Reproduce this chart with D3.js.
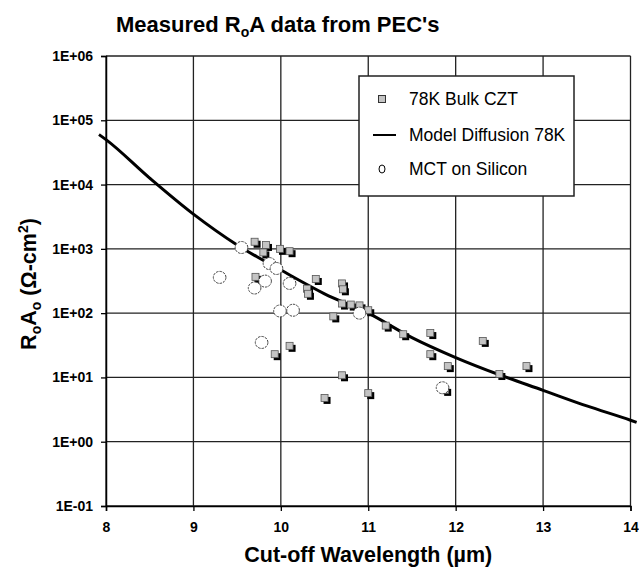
<!DOCTYPE html>
<html>
<head>
<meta charset="utf-8">
<script src="https://cdn.jsdelivr.net/npm/d3@7"></script>
<style>
  html, body { margin: 0; padding: 0; background: #fff; }
  svg { display: block; font-family: "Liberation Sans", Arial, sans-serif; }
</style>
</head>
<body>
<svg id="chart" width="639" height="569"></svg>
<script>
// ---- data ----
const xTicks = [8, 9, 10, 11, 12, 13, 14];
const yTicks = [0.1, 1, 10, 100, 1000, 10000, 100000, 1000000];
const yTickLabels = ["1E-01", "1E+00", "1E+01", "1E+02", "1E+03", "1E+04", "1E+05", "1E+06"];

// 78K Bulk CZT (grey squares)
const cztWavelength = [9.70, 9.83, 9.80, 9.99, 10.10, 9.71, 10.40, 10.30, 10.31, 10.70, 10.71,
                       10.70, 10.80, 10.90, 11.00, 10.60, 11.20, 11.40, 10.10, 9.93, 10.70,
                       11.00, 10.50, 11.71, 11.71, 11.91, 12.31, 12.50, 12.81, 11.88];
const cztR0A = [1290, 1150, 880, 1000, 920, 367, 340, 240, 200, 290, 235,
                141, 136, 132, 111, 89, 64, 47, 31, 23, 10.8,
                5.7, 4.8, 49, 23, 15, 37, 11.3, 15, 6.4];

// MCT on Silicon (white circles)
const mctWavelength = [9.55, 9.87, 9.95, 9.30, 9.82, 9.70, 10.10, 9.99, 10.14, 10.90, 9.78, 11.85];
const mctR0A = [1050, 590, 495, 360, 315, 246, 290, 108, 111, 100, 35, 6.9];

// Model Diffusion 78K (line)
const modelWavelength = [7.92, 8.0, 8.5, 9.0, 9.5, 10.0, 10.5, 11.0, 11.5, 12.0, 12.5, 13.0, 13.5, 14.0, 14.07];
const modelR0A = [60000, 50000, 12600, 3470, 1150, 468, 200, 100, 41.7, 20.4, 11.0, 6.3, 3.6, 2.16, 2.0];

(function () {
// ---- layout ----
const svg = d3.select("#chart");
const pLeft = 106, pRight = 630.5, pTop = 56, pBottom = 506;
const FONT = "Liberation Sans, Arial, sans-serif";

const x = d3.scaleLinear().domain([8, 14]).range([pLeft, pRight]);
const y = d3.scaleLog().domain([0.1, 1e6]).range([pBottom, pTop]);

// title
const title = svg.append("text")
  .attr("x", 116).attr("y", 32)
  .attr("font-size", 22).attr("font-weight", "bold").attr("fill", "#000");
title.append("tspan").text("Measured R");
title.append("tspan").attr("font-size", 14).attr("dy", 5).text("o");
title.append("tspan").attr("dy", -5).text("A data from PEC's");

// gridlines
const grid = svg.append("g");
grid.selectAll("line.v").data(xTicks).enter().append("line")
  .attr("x1", d => x(d)).attr("x2", d => x(d))
  .attr("y1", pTop).attr("y2", pBottom)
  .attr("stroke", "#222").attr("stroke-width", 1.3);
grid.selectAll("line.h").data(yTicks).enter().append("line")
  .attr("x1", pLeft).attr("x2", pRight)
  .attr("y1", d => y(d)).attr("y2", d => y(d))
  .attr("stroke", "#222").attr("stroke-width", 1.3);

// axes
const xAxis = d3.axisBottom(x).tickValues(xTicks).tickSize(5).tickPadding(11).tickFormat(d3.format("d"));
const gx = svg.append("g").attr("transform", `translate(0,${pBottom})`).call(xAxis);
gx.select(".domain").attr("stroke", "#000").attr("stroke-width", 1.5);
gx.selectAll(".tick line").attr("stroke", "#000").attr("stroke-width", 1.3);
gx.selectAll(".tick text").attr("font-size", 14).attr("font-weight", "bold")
  .attr("fill", "#000").attr("font-family", FONT);

const yAxis = d3.axisLeft(y).tickValues(yTicks).tickSize(5).tickPadding(8)
  .tickFormat((d, i) => yTickLabels[i]);
const gy = svg.append("g").attr("transform", `translate(${pLeft},0)`).call(yAxis);
gy.select(".domain").attr("stroke", "#000").attr("stroke-width", 1.5);
gy.selectAll(".tick line").attr("stroke", "#000").attr("stroke-width", 1.3);
gy.selectAll(".tick text").attr("font-size", 14).attr("font-weight", "bold")
  .attr("fill", "#000").attr("font-family", FONT);

// x axis title
svg.append("text")
  .attr("x", (pLeft + pRight) / 2).attr("y", 562)
  .attr("text-anchor", "middle")
  .attr("font-size", 21.5).attr("font-weight", "bold").attr("fill", "#000")
  .text("Cut-off Wavelength (\u00b5m)");

// y axis title
const yt = svg.append("text")
  .attr("transform", `translate(36,${(pTop + pBottom) / 2 + 3}) rotate(-90)`)
  .attr("text-anchor", "middle")
  .attr("font-size", 21.5).attr("font-weight", "bold").attr("fill", "#000");
yt.append("tspan").text("R");
yt.append("tspan").attr("font-size", 14).attr("dy", 5).text("o");
yt.append("tspan").attr("dy", -5).text("A");
yt.append("tspan").attr("font-size", 14).attr("dy", 5).text("o");
yt.append("tspan").attr("dy", -5).text(" (\u03a9-cm");
yt.append("tspan").attr("font-size", 14).attr("dy", -8).text("2");
yt.append("tspan").attr("dy", 8).text(")");

// model line
const line = d3.line()
  .x((d, i) => x(modelWavelength[i]))
  .y((d, i) => y(modelR0A[i]))
  .curve(d3.curveMonotoneX);
svg.append("path")
  .datum(modelR0A)
  .attr("d", line)
  .attr("fill", "none").attr("stroke", "#000").attr("stroke-width", 3);

// CZT squares with shadow
const sq = 7;
const cztData = cztWavelength.map((w, i) => ({ w, r: cztR0A[i] }));
const gs = svg.append("g");
gs.selectAll("rect.shadow").data(cztData).enter().append("rect")
  .attr("class", "shadow")
  .attr("x", d => x(d.w) - sq / 2 + 2.5).attr("y", d => y(d.r) - sq / 2 + 2.5)
  .attr("width", sq).attr("height", sq).attr("fill", "#000");
gs.selectAll("rect.mark").data(cztData).enter().append("rect")
  .attr("class", "mark")
  .attr("x", d => x(d.w) - sq / 2).attr("y", d => y(d.r) - sq / 2)
  .attr("width", sq).attr("height", sq)
  .attr("fill", "#c4c4c4").attr("stroke", "#555").attr("stroke-width", 0.8);

// MCT circles
const mctData = mctWavelength.map((w, i) => ({ w, r: mctR0A[i] }));
svg.append("g").selectAll("ellipse").data(mctData).enter().append("ellipse")
  .attr("cx", d => x(d.w)).attr("cy", d => y(d.r))
  .attr("rx", 6.3).attr("ry", 6)
  .attr("fill", "#fff").attr("stroke", "#444").attr("stroke-width", 1)
  .attr("stroke-dasharray", "2.5,1");

// legend
const lg = svg.append("g");
lg.append("rect").attr("x", 359).attr("y", 76).attr("width", 215).attr("height", 120)
  .attr("fill", "#fff").attr("stroke", "#222").attr("stroke-width", 1.5);
const legendItems = ["78K Bulk CZT", "Model Diffusion 78K", "MCT on Silicon"];
const legendY = [99, 135, 169];
lg.append("rect").attr("x", 378.5).attr("y", legendY[0] - 3.5).attr("width", 7).attr("height", 7)
  .attr("fill", "#c4c4c4").attr("stroke", "#333").attr("stroke-width", 1);
lg.append("line").attr("x1", 373).attr("x2", 396).attr("y1", legendY[1]).attr("y2", legendY[1])
  .attr("stroke", "#000").attr("stroke-width", 2);
lg.append("ellipse").attr("cx", 382).attr("cy", legendY[2]).attr("rx", 3).attr("ry", 4)
  .attr("fill", "#fff").attr("stroke", "#000").attr("stroke-width", 1);
lg.selectAll("text.leg").data(legendItems).enter().append("text")
  .attr("class", "leg")
  .attr("x", 409).attr("y", (d, i) => legendY[i] + 6)
  .attr("font-size", 17.5).attr("fill", "#000")
  .text(d => d);
})();
</script>
</body>
</html>
